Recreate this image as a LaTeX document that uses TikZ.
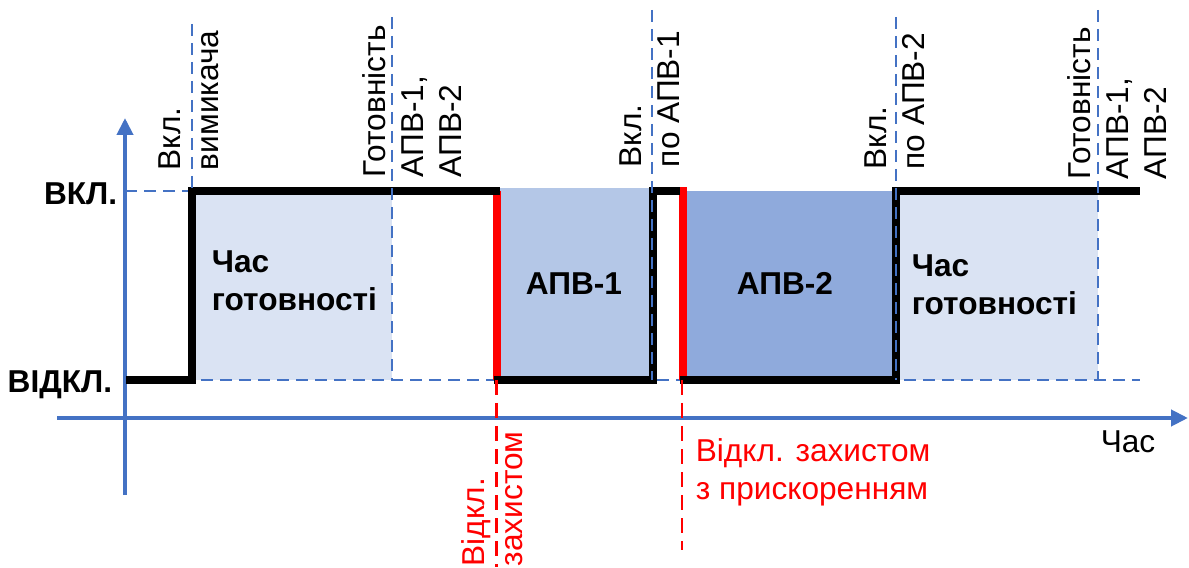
\documentclass[tikz,border=0pt]{standalone}
\usepackage{fontspec}
\setmainfont{Liberation Sans}
\usepackage{tikz}
\usetikzlibrary{arrows.meta}
\usepackage{xcolor}

\definecolor{axisblue}{HTML}{4472C4}
\definecolor{readyfill}{HTML}{DAE3F3}
\definecolor{apvonefill}{HTML}{B4C7E7}
\definecolor{apvtwofill}{HTML}{8FAADC}
\definecolor{tripred}{HTML}{FF0000}
\newcommand{\lblfont}{\fontsize{18}{21.6}\selectfont}

\begin{document}
\begin{tikzpicture}[
    timeaxis/.style={line width=2.3pt, draw=axisblue,
                     -{Triangle[length=0.34cm, width=0.32cm]}},
    guide/.style={line width=1.1pt, draw=axisblue, dash pattern=on 0.24cm off 0.14cm},
    tripguide/.style={line width=1.2pt, draw=tripred, dash pattern=on 0.3cm off 0.16cm},
    signal/.style={line width=4.2pt, black},
    tripedge/.style={line width=4.2pt, tripred},
    eventlbl/.style={rotate=90, anchor=west, inner sep=0pt, align=left, font=\lblfont},
    levellbl/.style={anchor=base east, inner sep=0pt, font=\lblfont\bfseries},
    zonelbl/.style={inner sep=0pt, align=left, font=\lblfont\bfseries}
]
\useasboundingbox (0,0) rectangle (23.78,11.34);

% ============================
% Shaded intervals
% ============================
\fill[readyfill]  (3.84,3.74)  rectangle (7.84,7.52);
\fill[apvonefill] (9.94,3.74)  rectangle (13.06,7.58);
\fill[apvtwofill] (13.66,3.74) rectangle (17.92,7.52);
\fill[readyfill]  (17.92,3.74) rectangle (21.96,7.52);

% Level guides
\draw[guide] (2.5,7.52) -- (3.84,7.52);
\draw[guide] (2.5,3.74) -- (22.8,3.74);

% Axes
\draw[timeaxis] (2.5,1.44) -- (2.5,8.98);
\draw[timeaxis] (1.14,2.98) -- (23.76,2.98);

% ============================
% Breaker state
% ============================
\draw[tripedge] (9.94,7.52) -- (9.94,3.74);
\draw[tripedge] (13.66,7.595) -- (13.66,3.74);
\draw[signal] (2.52,3.74) -- (3.84,3.74) -- (3.84,7.52) -- (10.0,7.52);
\draw[signal] (9.87,3.74) -- (13.06,3.74) -- (13.06,7.52) -- (13.59,7.52);
\draw[signal] (13.59,3.74) -- (17.92,3.74) -- (17.92,7.52) -- (22.8,7.52);

% Instants
\draw[guide] (3.84,10.86) -- (3.84,7.52);
\draw[guide] (7.84,11.0)  -- (7.84,3.74);
\draw[guide] (13.04,11.14) -- (13.04,3.74);
\draw[guide] (17.92,11.0) -- (17.92,3.74);
\draw[guide] (21.96,11.14) -- (21.96,3.74);
\draw[tripguide] (9.93,3.74) -- (9.93,0);
\draw[tripguide] (13.64,3.74) -- (13.64,0.34);

% ============================
% Labels
% ============================
\node[levellbl] (von)  at (2.35,7.24) {ВКЛ.};
\node[levellbl] (voff) at (2.25,3.48) {ВІДКЛ.};

\node[eventlbl] (tclose)    at (3.78,7.93)  {Вкл.\\вимикача};
\node[eventlbl] (tready)    at (8.24,7.79)  {Готовність\\АПВ-1,\\АПВ-2};
\node[eventlbl] (tapvone)   at (13.0,7.99)  {Вкл.\\по АПВ-1};
\node[eventlbl] (tapvtwo)   at (17.9,7.95)  {Вкл.\\по АПВ-2};
\node[eventlbl] (treadytwo) at (22.34,7.75) {Готовність\\АПВ-1,\\АПВ-2};
\node[eventlbl, text=tripred] (ttrip) at (9.84,0.01) {Відкл.\\захистом};

\node[zonelbl, anchor=north west] (rdyone) at (4.23,6.34)  {Час\\готовності};
\node[zonelbl, anchor=north west] (rdytwo) at (18.23,6.26) {Час\\готовності};
\node[zonelbl, anchor=base] (apvone) at (11.48,5.44) {АПВ-1};
\node[zonelbl, anchor=base] (apvtwo) at (15.7,5.44)  {АПВ-2};

\node[anchor=north west, inner sep=0pt, align=left, font=\lblfont, text=tripred]
    (tfast) at (13.91,2.58) {Відкл. захистом\\з прискоренням};
\node[anchor=base, inner sep=0pt, font=\lblfont] (tlbl) at (22.56,2.28) {Час};

\end{tikzpicture}
\end{document}
